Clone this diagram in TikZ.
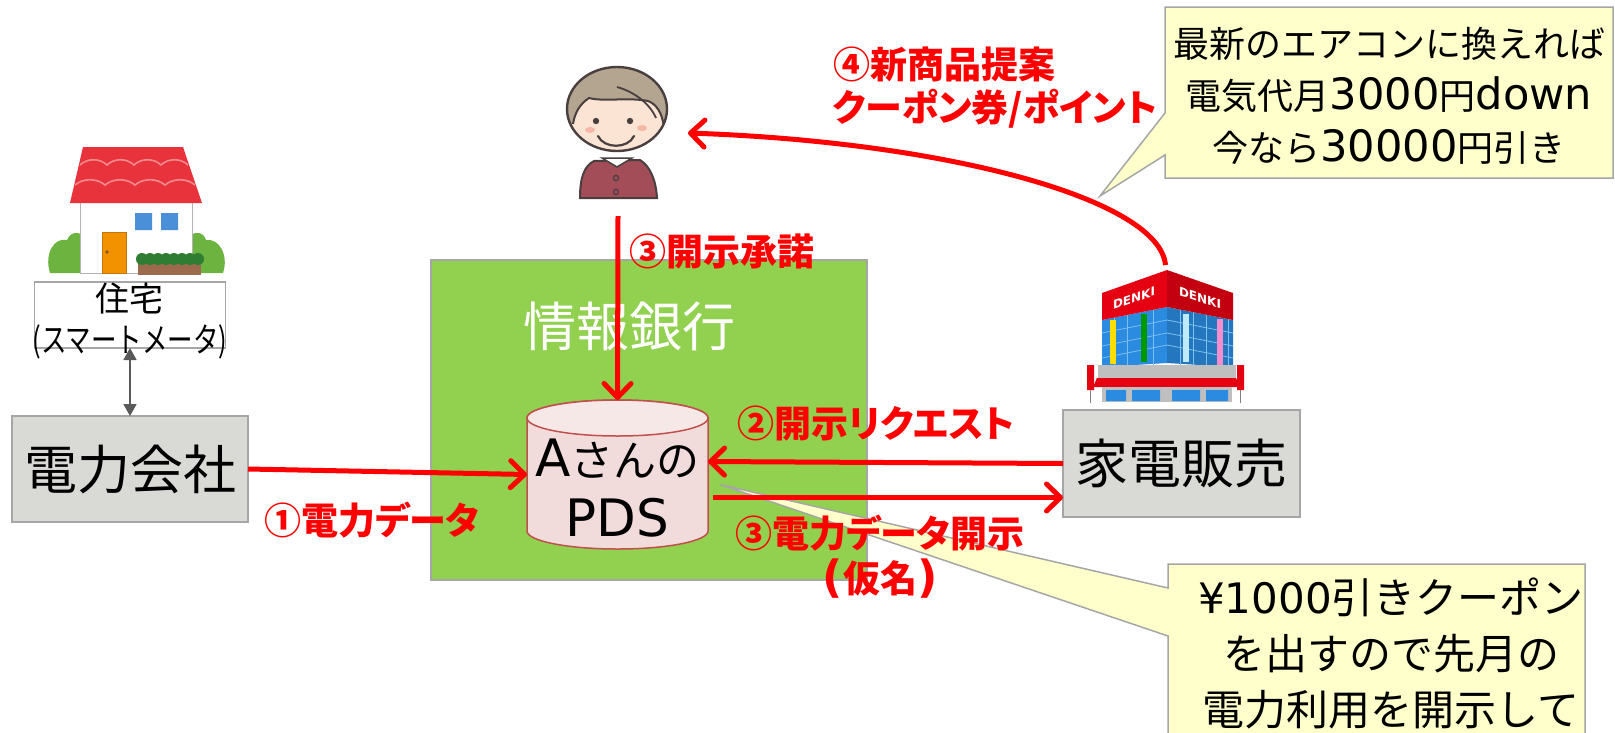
\documentclass[tikz,border=0pt]{standalone}
\usepackage{fontspec}
\setmainfont{Noto Sans CJK JP}
\newfontfamily\jpnarrow{Noto Sans CJK JP}[FakeStretch=0.75]
\newfontfamily\jplabel{Noto Sans CJK JP}[RawFeature=+palt]
\newfontfamily\lat{DejaVu Sans}[Scale=1.2]
\newfontfamily\latplain{DejaVu Sans}
\newfontfamily\signfont{DejaVu Sans}
\usetikzlibrary{arrows.meta,calc}

\definecolor{flowred}{HTML}{FF0000}
\definecolor{bankgreen}{HTML}{92D050}
\definecolor{boxgray}{HTML}{D9D9D6}
\definecolor{edgegray}{HTML}{A6A6A6}
\definecolor{pdsbody}{HTML}{F2DCDB}
\definecolor{pdstop}{HTML}{F7E8E8}
\definecolor{pdsedge}{HTML}{C0504D}
\definecolor{notefill}{HTML}{FFFFCC}
\definecolor{linkgray}{HTML}{595959}
% clip-art colours
\definecolor{roofred}{HTML}{E8333C}
\definecolor{roofline}{HTML}{F58A8E}
\definecolor{doororange}{HTML}{F39200}
\definecolor{winblue}{HTML}{4A90D9}
\definecolor{leafgreen}{HTML}{6CB33F}
\definecolor{darkleaf}{HTML}{2F7D32}
\definecolor{soilbrown}{HTML}{9C6B4E}
\definecolor{hair}{HTML}{B3A590}
\definecolor{skin}{HTML}{FCE4D4}
\definecolor{cheek}{HTML}{F5B7A8}
\definecolor{shirt}{HTML}{A24D57}
\definecolor{inkline}{HTML}{4A3F3F}
\definecolor{signred}{HTML}{E50012}
\definecolor{glassblue}{HTML}{2A8BE0}
\definecolor{glasslight}{HTML}{7CC0F2}
\definecolor{bandgray}{HTML}{BFBFBF}

\tikzset{
  every node/.style={inner sep=0pt, outer sep=0pt},
  redflow/.style={draw=flowred, line width=5pt,
    -{Straight Barb[length=14pt,width=27pt,round]}},
  flowlabel/.style={text=flowred, font=\jplabel\bfseries\fontsize{37}{44}\selectfont},
  graybox/.style={draw=edgegray, fill=boxgray, line width=1.5pt,
    font=\fontsize{53}{60}\selectfont},
  notebox/.style={draw=edgegray, fill=notefill, line width=1.5pt, line join=miter},
  linkarrow/.style={draw=linkgray, line width=1.8pt,
    {Triangle[length=12pt,width=13pt]}-{Triangle[length=12pt,width=13pt]}},
  signtext/.style={text=white, font=\signfont\bfseries\fontsize{12}{12}\selectfont},
}

\begin{document}
\begin{tikzpicture}[x=1pt,y=-1pt]
\clip (0,0) rectangle (1615,732);
\fill[white] (0,0) rectangle (1615,732);

% ---------- house ----------
\fill[leafgreen] (50,273) .. controls (44,254) and (54,237) .. (67,240)
  .. controls (71,229) and (86,231) .. (86,244) -- (86,273) -- cycle;
\fill[leafgreen] (186,244) .. controls (188,231) and (203,229) .. (206,240)
  .. controls (219,238) and (229,255) .. (223,273) -- (186,273) -- cycle;
\filldraw[fill=white, draw=gray!60, line width=1pt] (80,202) rectangle (192,273);
\fill[roofred] (83,147) -- (183,147) -- (202,203) -- (70,203) -- cycle;
\draw[roofline, line width=1.6pt] (80,165)
  \foreach \i in {1,...,4} { .. controls +(7,-7) and +(-7,-7) .. ++(27,0) };
\draw[roofline, line width=1.6pt] (75,185)
  \foreach \i in {1,...,4} { .. controls +(8,-7) and +(-8,-7) .. ++(30,0) };
\filldraw[fill=doororange, draw=doororange!80!black, line width=0.8pt] (102,232) rectangle (126,273);
\fill[brown!70!black] (107,252) circle[radius=1.8pt];
\fill[winblue] (135,213) rectangle (152,230) (161,213) rectangle (178,230);
\fill[soilbrown] (138,262) rectangle (201,275);
\foreach \x in {142,150,...,198} \fill[darkleaf] (\x,259) circle[radius=6pt];

\node[draw=edgegray, fill=white, line width=1.2pt, minimum width=191pt, minimum height=66pt]
  (jutaku) at (130,315) {};
\node[font=\fontsize{34}{41}\selectfont, align=center] (jutakutext) at (130,321)
  {住宅\\{\jpnarrow (スマートメータ)}};

% ---------- power company ----------
\node[graybox, minimum width=236pt, minimum height=106pt] (denryoku) at (130,469) {電力会社};
\draw[linkarrow] (jutaku.south) -- (denryoku.north);

% ---------- information bank ----------
\node[draw=edgegray, fill=bankgreen, line width=1.2pt, minimum width=436pt, minimum height=320pt]
  (bank) at (649,420) {};
\node[text=white, font=\fontsize{53}{60}\selectfont] (banktext) at (629,326) {情報銀行};

% personal data store (cylinder)
\node[minimum width=181pt, minimum height=149pt] (pds) at (617.5,474.5) {};
\filldraw[fill=pdsbody, draw=pdsedge, line width=1.5pt]
  (527,418) -- (527,531) arc[start angle=180, end angle=360, x radius=90.5pt, y radius=18pt]
  -- (708,418) arc[start angle=0, end angle=180, x radius=90.5pt, y radius=18pt] -- cycle;
\filldraw[fill=pdstop, draw=pdsedge, line width=1.5pt]
  (617.5,418) ellipse[x radius=90.5pt, y radius=18pt];
\node[font=\fontsize{43}{60}\selectfont, align=center] (pdstext) at (617.5,488)
  {{\lat A}さんの\\{\lat PDS}};

% ---------- person ----------
\node[minimum width=100pt, minimum height=130pt] (person) at (614,135) {};
\filldraw[fill=shirt, draw=inkline, line width=2pt]
  (580,198) .. controls (580,178) and (584,166) .. (594,161) -- (640,160)
  .. controls (650,166) and (656,180) .. (657,198) -- cycle;
\filldraw[fill=white, draw=inkline, line width=1.5pt] (602,158) -- (617,167) -- (632,158) -- cycle;
\draw[inkline, line width=1.2pt] (616,178) circle[radius=2.6pt] (616,192) circle[radius=2.6pt];
\begin{scope}
  \clip (617,109) ellipse[x radius=50pt, y radius=42pt];
  \fill[skin] (617,109) ellipse[x radius=50pt, y radius=42pt];
  \fill[hair] (560,60) -- (680,60) -- (680,128) -- (664,127)
    .. controls (662,112) and (656,104) .. (648,101)
    .. controls (628,97) and (604,102) .. (589,98)
    .. controls (580,104) and (575,112) .. (573,124) -- (560,124) -- cycle;
  \draw[inkline, line width=2pt] (664,127)
    .. controls (662,112) and (656,104) .. (648,101)
    .. controls (628,97) and (604,102) .. (589,98)
    .. controls (580,104) and (575,112) .. (573,124);
  \draw[inkline, line width=1.8pt] (617,87) .. controls (635,92) and (650,104) .. (656,118);
  \fill[cheek] (590,130) ellipse[x radius=5pt, y radius=3pt] (642,128) ellipse[x radius=5pt, y radius=3pt];
\end{scope}
\draw[inkline, line width=2.4pt] (617,109) ellipse[x radius=50pt, y radius=42pt];
\fill[inkline] (596,121) circle[radius=3.2pt] (630,121) circle[radius=3.2pt];
\draw[inkline, line width=2.2pt, line cap=round] (598,136) .. controls (604,149) and (628,149) .. (634,136);

% ---------- electronics store ----------
\node[minimum width=156pt, minimum height=140pt] (store) at (1165.5,335) {};
\fill[signred] (1087,365) rectangle (1094,390) (1237,365) rectangle (1244,390);
\draw[gray, line width=1.5pt] (1090.5,390) -- (1090.5,403) (1240.5,390) -- (1240.5,403);
\fill[glassblue] (1102,320) -- (1167,307) -- (1167,363) -- (1102,367) -- cycle;
\fill[glassblue!85!black] (1167,307) -- (1233,320) -- (1233,367) -- (1167,363) -- cycle;
\begin{scope}
  \clip (1102,320) -- (1167,307) -- (1233,320) -- (1233,367) -- (1102,367) -- cycle;
  \foreach \x in {1114,1127,1153,1180,1193,1206,1228}
    \draw[glasslight, line width=0.8pt] (\x,300) -- (\x,370);
  \foreach \c in {333,346,358}
    \draw[glasslight, line width=0.8pt] (1102,\c) -- (1167,\c-13) -- (1233,\c);
\end{scope}
\fill[yellow!80!orange] (1110,320) rectangle (1116,364);
\fill[green!60!black] (1141,314) rectangle (1147,362);
\fill[cyan!25] (1183,314) rectangle (1189,362);
\fill[magenta!45] (1217,319) rectangle (1223,365);
\fill[signred] (1102,293) -- (1167,270) -- (1167,307) -- (1102,320) -- cycle;
\fill[signred!85!black] (1167,270) -- (1233,293) -- (1233,320) -- (1167,307) -- cycle;
\node[signtext, yslant=0.33] (signl) at (1134,298) {DENKI};
\node[signtext, yslant=-0.33] (signr) at (1200,298) {DENKI};
\fill[bandgray] (1098,365) rectangle (1236,378);
\fill[signred] (1097,378) -- (1236,378) -- (1240,387) -- (1093,387) -- cycle;
\fill[bandgray] (1102,387) rectangle (1232,402);
\fill[glassblue] (1106,390) rectangle (1126,401) (1132,390) rectangle (1160,401)
  (1172,390) rectangle (1200,401) (1206,390) rectangle (1228,401);

% ---------- appliance retailer ----------
\node[graybox, minimum width=237pt, minimum height=107pt] (kaden) at (1181.5,463.5) {家電販売};

% ---------- speech bubbles ----------
\node[minimum width=448pt, minimum height=171pt] (note1) at (1389,92.5) {};
\coordinate (note1tip) at (1100,196);
\filldraw[notebox] (note1.north west) -- (note1.north east) -- (note1.south east)
  -- (note1.south west) -- ([yshift=-148pt]note1.north west) -- (note1tip)
  -- ([yshift=-106pt]note1.north west) -- cycle;
\node[font=\fontsize{36}{52}\selectfont, align=center] (note1text) at (1389,96)
  {最新のエアコンに換えれば\\電気代月{\lat 3000}円{\lat down}\\今なら{\lat 30000}円引き};

\node[minimum width=417pt, minimum height=226pt] (note2) at (1376.5,677) {};
\filldraw[notebox] (note2.north west) -- (note2.north east) -- (note2.south east)
  -- (note2.south west) -- ([yshift=-72pt]note2.north west)
  -- ([xshift=12pt,yshift=-10pt]pds.east)
  -- ([yshift=-24pt]note2.north west) -- cycle;
\node[font=\fontsize{42}{56}\selectfont, align=center] (note2text) at (1391,653)
  {{\latplain ¥1000}引きクーポン\\を出すので先月の\\電力利用を開示して};

% ---------- data flows ----------
\draw[redflow] (denryoku.east) -- (pds.west);
\draw[redflow] ([xshift=4pt,yshift=-16pt]person.south) -- (pds.north);
\draw[redflow] (kaden.west) -- ([yshift=13pt]pds.east);
\draw[redflow] ([xshift=5pt,yshift=-23pt]pds.east) -- ([yshift=-34pt]kaden.west);
\draw[redflow] (store.north) .. controls ($(store.north)+(-6,-65)$) and ($(person.east)+(286,7)$)
  .. ([xshift=24pt,yshift=2pt]person.east);

% ---------- flow labels ----------
\node[flowlabel] (lab1) at (372,520) {①電力データ};
\node[flowlabel, anchor=west] (lab3a) at (629,251) {③開示承諾};
\node[flowlabel] (lab2) at (876,423) {②開示リクエスト};
\node[flowlabel, font=\jplabel\bfseries\fontsize{37}{45}\selectfont, align=center] (lab3b) at (880,557)
  {③電力データ開示\\{\lat (}仮名{\lat )}};
\node[flowlabel, font=\jplabel\bfseries\fontsize{37}{43}\selectfont, align=left, anchor=west] (lab4) at (833,88)
  {④新商品提案\\クーポン券/ポイント};
\end{tikzpicture}
\end{document}
